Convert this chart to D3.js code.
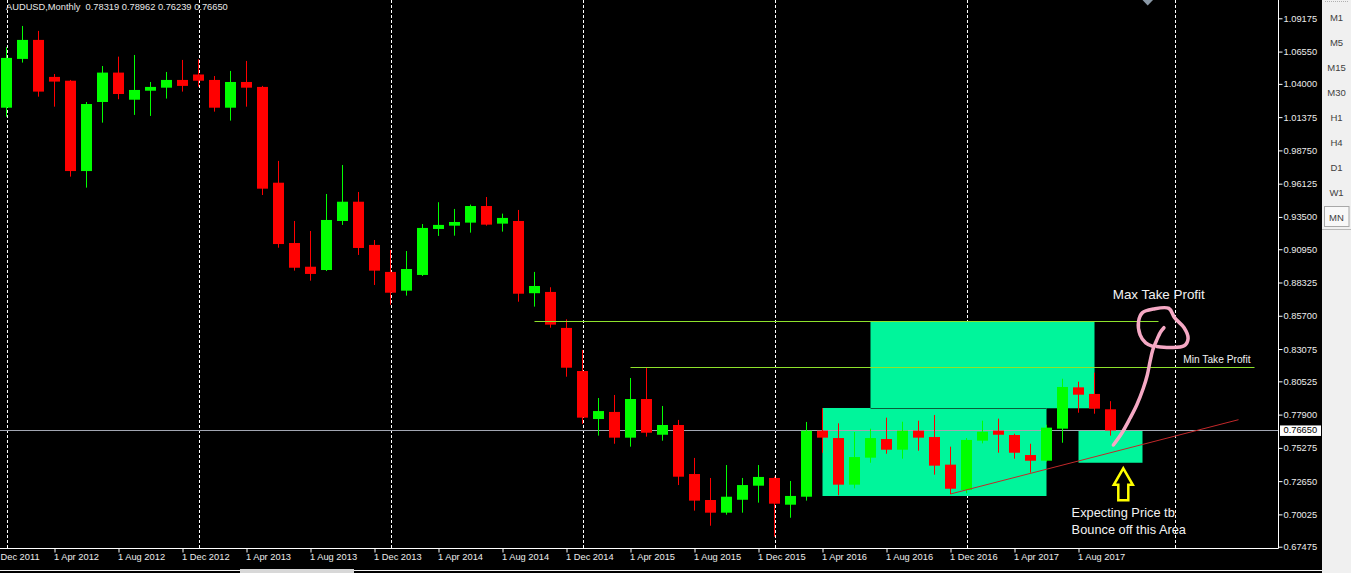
<!DOCTYPE html>
<html><head><meta charset="utf-8">
<script src="https://cdn.jsdelivr.net/npm/d3@7"></script>
<style>
html,body{margin:0;padding:0;background:#000;overflow:hidden;}
svg{display:block;}
</style></head>
<body>
<svg id="c" width="1351" height="573"></svg>
<script>
// ---------- DATA ----------
const symbol = "AUDUSD,Monthly";
const months = ["Jan 2012","Feb 2012","Mar 2012","Apr 2012","May 2012","Jun 2012","Jul 2012","Aug 2012","Sep 2012","Oct 2012","Nov 2012","Dec 2012",
"Jan 2013","Feb 2013","Mar 2013","Apr 2013","May 2013","Jun 2013","Jul 2013","Aug 2013","Sep 2013","Oct 2013","Nov 2013","Dec 2013",
"Jan 2014","Feb 2014","Mar 2014","Apr 2014","May 2014","Jun 2014","Jul 2014","Aug 2014","Sep 2014","Oct 2014","Nov 2014","Dec 2014",
"Jan 2015","Feb 2015","Mar 2015","Apr 2015","May 2015","Jun 2015","Jul 2015","Aug 2015","Sep 2015","Oct 2015","Nov 2015","Dec 2015",
"Jan 2016","Feb 2016","Mar 2016","Apr 2016","May 2016","Jun 2016","Jul 2016","Aug 2016","Sep 2016","Oct 2016","Nov 2016","Dec 2016",
"Jan 2017","Feb 2017","Mar 2017","Apr 2017","May 2017","Jun 2017","Jul 2017","Aug 2017","Sep 2017","Oct 2017"];
const open  = [1.0212,1.0597,1.0747,1.0455,1.0425,0.9712,1.0257,1.0489,1.0275,1.0346,1.0370,1.0431,
1.0474,1.0431,1.0212,1.0415,1.0376,0.9620,0.9144,0.8957,0.8931,0.9318,0.9470,0.9129,
0.8916,0.8768,0.8892,0.9255,0.9281,0.9305,0.9436,0.9297,0.9318,0.8748,0.8758,0.8474,
0.8134,0.7755,0.7811,0.7608,0.7913,0.7631,0.7708,0.7321,0.7116,0.7016,0.7118,0.7229,
0.7290,0.7079,0.7142,0.7663,0.7605,0.7237,0.7450,0.7597,0.7513,0.7663,0.7613,0.7395,
0.7195,0.7584,0.7663,0.7629,0.7471,0.7426,0.7679,0.8005,0.7953,0.78319];
const high  = [1.0689,1.0857,1.0818,1.0478,1.0431,1.0257,1.0541,1.0615,1.0628,1.0415,1.0494,1.0589,
1.0594,1.0462,1.0502,1.0581,1.0384,0.9792,0.9318,0.9239,0.9531,0.9760,0.9547,0.9168,
0.9089,0.9081,0.9294,0.9466,0.9413,0.9447,0.9507,0.9376,0.9405,0.8916,0.8795,0.8542,
0.8300,0.7921,0.7945,0.8079,0.8160,0.7858,0.7748,0.7448,0.7290,0.7392,0.7290,0.7392,
0.7300,0.7266,0.7732,0.7840,0.7721,0.7653,0.7679,0.7766,0.7734,0.7742,0.7787,0.7537,
0.7605,0.7742,0.7758,0.7639,0.7560,0.7710,0.8073,0.8050,0.8121,0.78962];
const low   = [1.0141,1.0568,1.0299,1.0220,0.9668,0.9581,1.0094,1.0279,1.0155,1.0147,1.0284,1.0339,
1.0378,1.0181,1.0110,1.0220,0.9523,0.9107,0.8926,0.8847,0.8923,0.9287,0.9050,0.8813,
0.8657,0.8729,0.8884,0.9200,0.9202,0.9226,0.9281,0.9234,0.8681,0.8642,0.8476,0.8089,
0.7716,0.7624,0.7560,0.7537,0.7616,0.7584,0.7234,0.7032,0.6913,0.7000,0.7016,0.7095,
0.6826,0.6976,0.7111,0.7489,0.7153,0.7208,0.7410,0.7481,0.7442,0.7505,0.7316,0.7163,
0.7169,0.7563,0.7489,0.7442,0.7332,0.7418,0.7568,0.7805,0.7797,0.76239];
const close = [1.0605,1.0747,1.0339,1.0418,0.9712,1.0241,1.0489,1.0320,1.0352,1.0376,1.0431,1.0384,
1.0425,1.0212,1.0415,1.0370,0.9573,0.9136,0.8949,0.8900,0.9326,0.9470,0.9105,0.8926,
0.8752,0.8939,0.9263,0.9287,0.9310,0.9436,0.9289,0.9342,0.8744,0.8805,0.8500,0.8160,
0.7766,0.7818,0.7608,0.7913,0.7647,0.7708,0.7300,0.7111,0.7016,0.7142,0.7234,0.7298,
0.7087,0.7148,0.7663,0.7608,0.7237,0.7455,0.7605,0.7513,0.7663,0.7608,0.7387,0.7205,
0.7590,0.7655,0.7631,0.7489,0.7426,0.7687,0.8008,0.7947,0.7837,0.76650];

const priceTicks = [1.09175,1.06550,1.04000,1.01375,0.98750,0.96125,0.93500,0.90950,0.88325,0.85700,0.83075,0.80525,0.77900,0.75275,0.72650,0.70025,0.67475];
const timeTickIdx = [-1,3,7,11,15,19,23,27,31,35,39,43,47,51,55,59,63,67];
const timeTickLabels = ["1 Dec 2011","1 Apr 2012","1 Aug 2012","1 Dec 2012","1 Apr 2013","1 Aug 2013","1 Dec 2013","1 Apr 2014","1 Aug 2014","1 Dec 2014","1 Apr 2015","1 Aug 2015","1 Dec 2015","1 Apr 2016","1 Aug 2016","1 Dec 2016","1 Apr 2017","1 Aug 2017"];
const separatorIdx = [0,12,24,36,48,60,73];
const bidPrice = 0.76650;
const timeframes = ["M1","M5","M15","M30","H1","H4","D1","W1","MN"];

// annotation objects (bar index, price)
const zones = [
  {i0:51, i1:65, p0:0.71476, p1:0.78422},
  {i0:54, i1:68, p0:0.78400, p1:0.85265},
  {i0:67, i1:71, p0:0.74100, p1:0.76630}
];
const hLines = [
  {i0:33, i1:72, p:0.85265},
  {i0:39, i1:78, p:0.81660}
];
const trend = {i0:59, p0:0.71634, i1:77, p1:0.77498};
const pinkStem = [[69.18,0.75501],[69.70,0.76424],[70.22,0.77608],[70.64,0.78658],[71.05,0.79976],[71.30,0.81025],[71.47,0.82075],[71.64,0.82998],[71.89,0.83787],[72.14,0.84442],[72.34,0.84758]];
const pinkLoop = [[71.68,0.83259],[71.20,0.83560],[70.85,0.84200],[70.75,0.85232],[71.00,0.85950],[71.68,0.86230],[72.65,0.86280],[73.00,0.85550],[73.60,0.84750],[73.85,0.83922],[73.60,0.83330],[72.71,0.83200],[71.89,0.83280]];
const arrowTip = {i:69.8, p:0.73663};
const notes = [
  {text:"Max Take Profit", i:69.14, p:0.87339, size:13.4},
  {text:"Min Take Profit", i:73.55, p:0.82154, size:10.2},
  {text:"Expecting Price tb", i:66.57, p:0.70111, size:12.8},
  {text:"Bounce off this Area", i:66.57, p:0.68738, size:12.8}
];

// ---------- SCALES ----------
const W = 1351, H = 573, axisX = 1278.5, axisY = 548.5, panelX = 1322;
const x = d3.scaleLinear().domain([0, 69]).range([6.5, 6.5 + 16*69]);
const y = d3.scaleLinear().domain([0.67475, 1.09175]).range([546.7, 18.3]);
const font = "'Liberation Sans', Arial, sans-serif";

const svg = d3.select("#c");
svg.append("rect").attr("width",W).attr("height",H).attr("fill","#000");

svg.append("clipPath").attr("id","pc").append("rect").attr("x",0).attr("y",0).attr("width",axisX).attr("height",axisY);
const plot = svg.append("g").attr("clip-path","url(#pc)");

// separators
plot.selectAll("line.sep").data(separatorIdx).join("line").attr("class","sep")
  .attr("x1",d=>Math.round(x(d))+0.5).attr("x2",d=>Math.round(x(d))+0.5)
  .attr("y1",0).attr("y2",axisY)
  .attr("stroke","#fff").attr("stroke-width",1).attr("stroke-dasharray","3,2");

// zones
plot.selectAll("rect.zone").data(zones).join("rect").attr("class","zone")
  .attr("x",d=>x(d.i0)).attr("width",d=>x(d.i1)-x(d.i0))
  .attr("y",d=>y(d.p1)).attr("height",d=>y(d.p0)-y(d.p1))
  .attr("fill","#00f59b");
plot.append("line")
  .attr("x1",x(zones[1].i0)).attr("x2",x(zones[0].i1))
  .attr("y1",Math.round(y(zones[1].p0))+0.5).attr("y2",Math.round(y(zones[1].p0))+0.5)
  .attr("stroke","#0a5c3a").attr("stroke-width",1);

// bid line
plot.append("line").attr("x1",0).attr("x2",axisX)
  .attr("y1",Math.round(y(bidPrice))+0.5).attr("y2",Math.round(y(bidPrice))+0.5)
  .attr("stroke","#a2a6b2").attr("stroke-width",1);

// candles
const bars = months.map((m,i)=>({i, o:open[i], h:high[i], l:low[i], c:close[i]}));
const cg = plot.append("g");
cg.selectAll("line.wick").data(bars).join("line").attr("class","wick")
  .attr("x1",d=>x(d.i)).attr("x2",d=>x(d.i))
  .attr("y1",d=>y(d.h)).attr("y2",d=>y(d.l))
  .attr("stroke",d=>d.c>=d.o?"#00ff00":"#ff0000").attr("stroke-width",1);
cg.selectAll("rect.body").data(bars).join("rect").attr("class","body")
  .attr("x",d=>x(d.i)-5.5).attr("width",11)
  .attr("y",d=>y(Math.max(d.o,d.c)))
  .attr("height",d=>Math.max(1,Math.abs(y(d.o)-y(d.c))))
  .attr("fill",d=>d.c>=d.o?"#00ff00":"#ff0000");

// horizontal target lines
plot.selectAll("line.hl").data(hLines).join("line").attr("class","hl")
  .attr("x1",d=>x(d.i0)).attr("x2",d=>x(d.i1))
  .attr("y1",d=>Math.round(y(d.p))+0.5).attr("y2",d=>Math.round(y(d.p))+0.5)
  .attr("stroke","#8ee22c").attr("stroke-width",1.2);

// trend line
plot.append("line")
  .attr("x1",x(trend.i0)).attr("y1",y(trend.p0))
  .attr("x2",x(trend.i1)).attr("y2",y(trend.p1))
  .attr("stroke","#c2282a").attr("stroke-width",1);

// pink freehand
const pl = d3.line().x(d=>x(d[0])).y(d=>y(d[1])).curve(d3.curveCatmullRom.alpha(0.5));
[pinkStem, pinkLoop].forEach(pts=>{
  plot.append("path").attr("d",pl(pts)).attr("fill","none")
    .attr("stroke","#f5a8c4").attr("stroke-width",3.5).attr("stroke-linecap","round").attr("stroke-linejoin","round");
});

// yellow arrow
const ax = x(arrowTip.i), ay = y(arrowTip.p);
const arrowShape = [[0,0],[9.5,16.5],[5,16.5],[5,32],[-5,32],[-5,16.5],[-9.5,16.5]];
plot.append("polygon")
  .attr("points",arrowShape.map(d=>[ax+d[0],ay+d[1]].join(",")).join(" "))
  .attr("fill","none").attr("stroke","#ffff00").attr("stroke-width",2.5).attr("stroke-linejoin","miter");

// notes
plot.selectAll("text.note").data(notes).join("text").attr("class","note")
  .attr("x",d=>x(d.i)).attr("y",d=>y(d.p))
  .attr("dominant-baseline","middle")
  .attr("fill","#f2f2f2").attr("font-family",font).attr("font-size",d=>d.size)
  .text(d=>d.text);

// top marker
svg.append("polygon").attr("points","1142.5,0 1153,0 1147.7,5.5").attr("fill","#8a98a6");

// header
const hdr = [open[69],high[69],low[69],close[69]].map(v=>v.toFixed(5)).join(" ");
svg.append("text").attr("x",6).attr("y",8).attr("dominant-baseline","middle")
  .attr("fill","#e8e8e8").attr("font-family",font).attr("font-size",9.3)
  .attr("xml:space","preserve")
  .text(symbol + "  " + hdr);

// axes frame
svg.append("line").attr("x1",axisX).attr("x2",axisX).attr("y1",0).attr("y2",axisY).attr("stroke","#fff");
svg.append("line").attr("x1",0).attr("x2",axisX).attr("y1",axisY).attr("y2",axisY).attr("stroke","#fff");

// price axis
const yAxis = svg.append("g").attr("transform",`translate(${axisX},0)`)
  .call(d3.axisRight(y).tickValues(priceTicks).tickSize(4).tickPadding(1).tickFormat(d=>d.toFixed(5)));
yAxis.select(".domain").remove();
yAxis.selectAll(".tick line").attr("stroke","#fff");
yAxis.selectAll(".tick text").attr("fill","#ececec").attr("font-family",font).attr("font-size",9.3);

// bid label
const by = y(bidPrice);
svg.append("rect").attr("x",1280).attr("y",by-5).attr("width",41).attr("height",10.5).attr("fill","#fff");
svg.append("text").attr("x",1283.5).attr("y",by+0.3).attr("dominant-baseline","middle")
  .attr("fill","#000").attr("font-family",font).attr("font-size",9.3).text(bidPrice.toFixed(5));

// time axis
const xAxis = svg.append("g").attr("transform",`translate(0,${axisY})`)
  .call(d3.axisBottom(x).tickValues(timeTickIdx).tickSize(4).tickFormat((d,k)=>timeTickLabels[k]));
xAxis.select(".domain").remove();
xAxis.selectAll(".tick line").attr("stroke","#fff");
xAxis.selectAll(".tick text").attr("fill","#ececec").attr("font-family",font).attr("font-size",9.3)
  .attr("text-anchor","start").attr("x",-1).attr("y",5).attr("dy","0.71em");
xAxis.selectAll(".tick").each(function(d,k){
  const px = x(d) - 1;
  if (px < 0) {
    const t = d3.select(this).select("text");
    t.text(timeTickLabels[k].replace(/^\d+\s/,"")).attr("x", -x(d));
  }
});

// bottom strip
svg.append("line").attr("x1",0).attr("x2",240).attr("y1",570.5).attr("y2",570.5).attr("stroke","#f4f4f4");
svg.append("rect").attr("x",240).attr("y",569).attr("width",114).attr("height",4).attr("fill","#d8d8d8");
svg.append("line").attr("x1",354).attr("x2",panelX).attr("y1",570.5).attr("y2",570.5).attr("stroke","#f4f4f4");

// right panel
svg.append("rect").attr("x",panelX).attr("y",0).attr("width",W-panelX).attr("height",H).attr("fill","#f0f0f0");
svg.append("line").attr("x1",1325).attr("x2",1348).attr("y1",1.5).attr("y2",1.5).attr("stroke","#b0b0b0").attr("stroke-dasharray","1,1");
svg.append("rect").attr("x",1324.5).attr("y",206.5).attr("width",24.5).attr("height",20)
  .attr("fill","#f8f8f8").attr("stroke","#a8a8a8");
svg.append("line").attr("x1",panelX).attr("x2",W).attr("y1",229.5).attr("y2",229.5).attr("stroke","#b8b8b8");
svg.selectAll("text.tf").data(timeframes).join("text").attr("class","tf")
  .attr("x",1336.5).attr("y",(d,k)=>18.5+25*k).attr("text-anchor","middle").attr("dominant-baseline","middle")
  .attr("fill","#404040").attr("font-family",font).attr("font-size",9.5)
  .text(d=>d);
</script>
</body></html>
